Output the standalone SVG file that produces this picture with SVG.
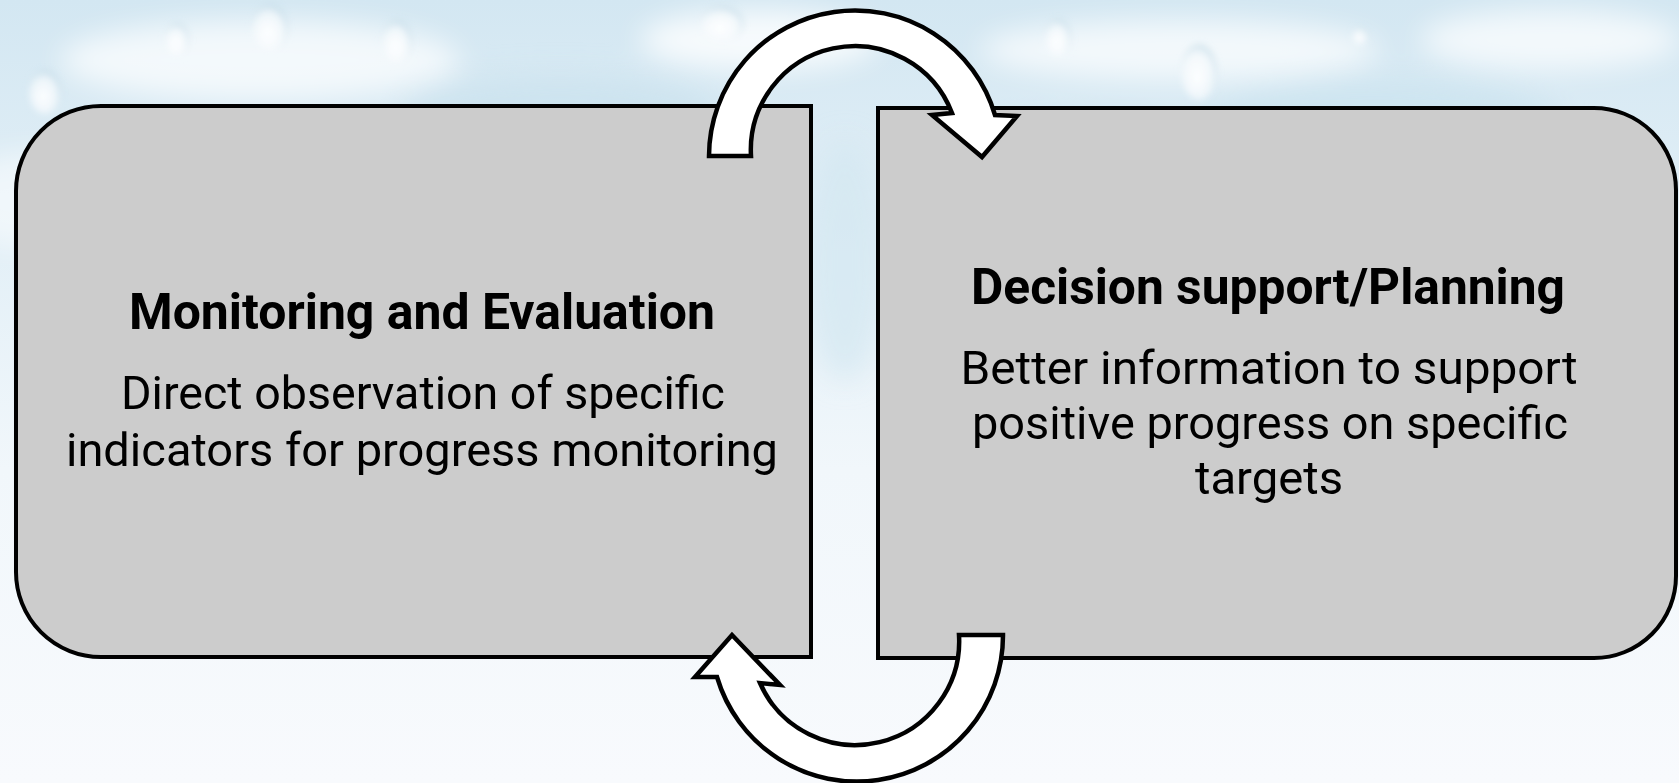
<svg xmlns="http://www.w3.org/2000/svg" width="1679" height="783" viewBox="0 0 1679 783">
  <defs>
    <linearGradient id="sky" x1="0" y1="0" x2="0" y2="1">
      <stop offset="0" stop-color="#d3e7f2"/>
      <stop offset="0.25" stop-color="#e0eef6"/>
      <stop offset="0.6" stop-color="#f1f7fb"/>
      <stop offset="1" stop-color="#f8fafd"/>
    </linearGradient>
    <filter id="soft" x="-50%" y="-50%" width="200%" height="200%">
      <feGaussianBlur stdDeviation="14"/>
    </filter>
    <filter id="softer" x="-50%" y="-50%" width="200%" height="200%">
      <feGaussianBlur stdDeviation="3"/>
    </filter>
    <radialGradient id="drop" cx="0.45" cy="0.6" r="0.6">
      <stop offset="0" stop-color="#ffffff" stop-opacity="0.95"/>
      <stop offset="0.7" stop-color="#f4f9fc" stop-opacity="0.7"/>
      <stop offset="1" stop-color="#b9d5e3" stop-opacity="0.6"/>
    </radialGradient>
  </defs>
  <style>
    .box { fill: #cccccc; stroke: #000000; stroke-width: 4; }
    .loop { fill: #ffffff; stroke: #000000; stroke-width: 4.5; stroke-linejoin: miter; }
    .title { font-family: Roboto, "Liberation Sans", sans-serif; font-weight: 700; font-size: 50px; fill: #000000; text-anchor: middle; }
    .body { font-family: Roboto, "Liberation Sans", sans-serif; font-weight: 400; font-size: 46px; fill: #000000; text-anchor: middle; }
  </style>

  <!-- water background -->
  <rect x="0" y="0" width="1679" height="783" fill="url(#sky)"/>
  <g id="water" filter="url(#soft)">
    <ellipse cx="260" cy="60" rx="200" ry="40" fill="#ffffff" opacity="0.7"/>
    <ellipse cx="560" cy="110" rx="160" ry="35" fill="#cbe2ee" opacity="0.8"/>
    <ellipse cx="760" cy="40" rx="120" ry="30" fill="#ffffff" opacity="0.8"/>
    <ellipse cx="1180" cy="50" rx="200" ry="30" fill="#ffffff" opacity="0.7"/>
    <ellipse cx="1380" cy="120" rx="180" ry="40" fill="#cbe3ef" opacity="0.8"/>
    <ellipse cx="1550" cy="40" rx="130" ry="30" fill="#ffffff" opacity="0.7"/>
    <ellipse cx="1080" cy="160" rx="170" ry="40" fill="#cae1ed" opacity="0.7"/>
    <ellipse cx="845" cy="260" rx="40" ry="120" fill="#d3e7f1" opacity="0.7"/>
    <ellipse cx="60" cy="200" rx="120" ry="50" fill="#ffffff" opacity="0.5"/>
  </g>
  <g id="drops" filter="url(#softer)">
    <ellipse cx="45" cy="92" rx="16" ry="22" fill="url(#drop)"/>
    <ellipse cx="177" cy="40" rx="12" ry="17" fill="url(#drop)"/>
    <ellipse cx="270" cy="28" rx="18" ry="24" fill="url(#drop)"/>
    <ellipse cx="397" cy="42" rx="15" ry="22" fill="url(#drop)"/>
    <ellipse cx="722" cy="24" rx="22" ry="18" fill="url(#drop)"/>
    <ellipse cx="1058" cy="38" rx="13" ry="19" fill="url(#drop)"/>
    <ellipse cx="1199" cy="72" rx="18" ry="28" fill="url(#drop)"/>
    <ellipse cx="1360" cy="36" rx="8" ry="9" fill="url(#drop)"/>
  </g>

  <!-- nodes -->
  <g id="monitoring">
    <path class="box" d="M 101,106 H 811 V 657 H 101 A 85,85 0 0 1 16,572 V 191 A 85,85 0 0 1 101,106 Z"/>
    <text class="title" x="422" y="329" textLength="586" lengthAdjust="spacingAndGlyphs">Monitoring and Evaluation</text>
    <text class="body" x="423" y="409" textLength="604" lengthAdjust="spacingAndGlyphs">Direct observation of specific</text>
    <text class="body" x="422" y="466" textLength="712" lengthAdjust="spacingAndGlyphs">indicators for progress monitoring</text>
  </g>

  <g id="decision">
    <path class="box" d="M 878,108 H 1594 A 82,82 0 0 1 1676,190 V 576 A 82,82 0 0 1 1594,658 H 878 Z"/>
    <text class="title" x="1268" y="304" textLength="594" lengthAdjust="spacingAndGlyphs">Decision support/Planning</text>
    <text class="body" x="1269" y="384" textLength="617" lengthAdjust="spacingAndGlyphs">Better information to support</text>
    <text class="body" x="1270" y="439" textLength="596" lengthAdjust="spacingAndGlyphs">positive progress on specific</text>
    <text class="body" x="1269" y="494" textLength="148" lengthAdjust="spacingAndGlyphs">targets</text>
  </g>

  <!-- connectors: curved block arrows between the two boxes -->
  <g id="connectors">
    <path class="loop" d="M 709,156 A 146,146 0 0 1 995,115 L 1017,116 L 982,157 L 932,115 L 952,113 A 104,104 0 0 0 751,156 Z"/>
    <path class="loop" d="M 1003,635 A 146,146 0 0 1 717,677 L 695,677 L 732,635 L 780,685 L 760,683 A 104,104 0 0 0 959,635 Z"/>
  </g>
</svg>
